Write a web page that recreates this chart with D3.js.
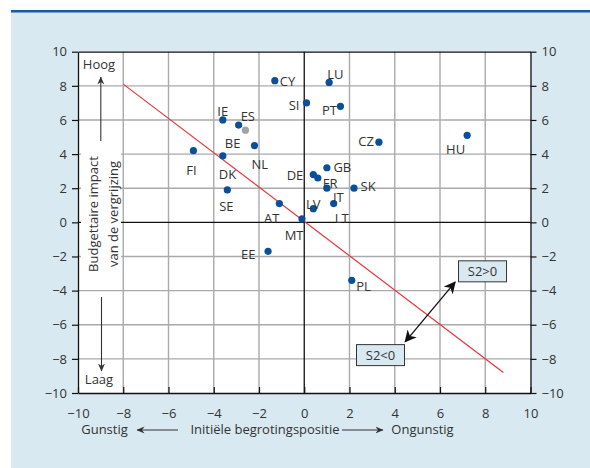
<!DOCTYPE html>
<html>
<head>
<meta charset="utf-8">
<script src="https://cdn.jsdelivr.net/npm/d3@7"></script>
<style>
  body { margin: 0; background: #fff; }
  svg { display: block; }
  text { font-family: "Open Sans", sans-serif; fill: #333; }
</style>
</head>
<body>
<svg id="chart"></svg>
<script>
// data
const countries      = ["FI", "IE", "ES", "BE", "NL", "DK", "SE", "CY", "SI", "AT", "MT", "DE", "LV", "LU", "PT", "CZ", "HU", "GB", "FR", "IT", "SK", "LT", "EE", "PL"];
const initialPos     = [-4.9, -3.6, -2.9, -2.6, -2.2, -3.6, -3.4, -1.3, 0.1, -1.1, -0.1, 0.4, 0.4, 1.1, 1.6, 3.3, 7.2, 1.0, 0.6, 1.0, 2.2, 1.3, -1.6, 2.1];
const ageingImpact   = [4.2, 6.0, 5.7, 5.4, 4.5, 3.9, 1.9, 8.3, 7.0, 1.1, 0.2, 2.8, 0.8, 8.2, 6.8, 4.7, 5.1, 3.2, 2.6, 2.0, 2.0, 1.1, -1.7, -3.4];
const greyCountries  = ["BE"];
const tickValues     = [-10, -8, -6, -4, -2, 0, 2, 4, 6, 8, 10];
const gridValues     = [-8, -6, -4, -2, 0, 2, 4, 6, 8];
const thresholdX     = [-8, 8.8];
const thresholdY     = [8.1, -8.8];
const s2ArrowX       = [4.46, 6.67];
const s2ArrowY       = [-7.0, -3.5];
const s2Labels       = ["S2<0", "S2>0"];
const s2LabelX       = [3.37, 7.88];
const s2LabelY       = [-7.78, -2.87];

// label placement (anchor, dx, dy) per country
const labelPos = {
  FI: ["middle", -2, 20], IE: ["middle", 0, -9], ES: ["start", 2, -9], BE: ["end", -5, 13],
  NL: ["start", -3, 18.5], DK: ["start", -4, 19], SE: ["middle", -1, 16.5], CY: ["start", 5, 0.5],
  SI: ["end", -7, 3], AT: ["end", 0, 15], MT: ["end", 1.5, 16], DE: ["end", -10, 0.5],
  LV: ["middle", 0, -4.5], LU: ["start", -2, -8], PT: ["end", -3.5, 4], CZ: ["end", -5, -0.5],
  HU: ["end", -2, 14], GB: ["start", 6.5, 0], FR: ["start", 5, 5.5], IT: ["start", 6, 9.5],
  SK: ["start", 6.5, -1.5], LT: ["start", 1, 15], EE: ["end", -12.5, 3.5], PL: ["start", 4.5, 6.5]
};

const width = 590, height = 468;
const margin = { top: 51.7, right: 59.5, bottom: 75, left: 78 };
const blue = "#0a4f9a";
const fs = "13px";

const svg = d3.select("#chart").attr("width", width).attr("height", height);

// panel
svg.append("rect").attr("x", 11).attr("y", 10).attr("width", width - 11).attr("height", height - 10)
  .attr("fill", "#d9e9f2");
svg.append("rect").attr("x", 11).attr("y", 10).attr("width", width - 11).attr("height", 2.5)
  .attr("fill", "#1a5a9c");

const x = d3.scaleLinear().domain([-10, 10]).range([margin.left, width - margin.right]);
const y = d3.scaleLinear().domain([-10, 10]).range([height - margin.bottom, margin.top]);

svg.append("rect")
  .attr("x", x(-10)).attr("y", y(10))
  .attr("width", x(10) - x(-10)).attr("height", y(-10) - y(10))
  .attr("fill", "#fff");

// grid
const grid = svg.append("g");
grid.selectAll(".gv").data(gridValues.filter(d => d !== 0)).enter().append("line")
  .attr("x1", d => x(d)).attr("x2", d => x(d)).attr("y1", y(10)).attr("y2", y(-10))
  .attr("stroke", "#aaa").attr("stroke-width", 1.4);
grid.selectAll(".gh").data(gridValues.filter(d => d !== 0)).enter().append("line")
  .attr("x1", x(-10)).attr("x2", x(10)).attr("y1", d => y(d)).attr("y2", d => y(d))
  .attr("stroke", "#aaa").attr("stroke-width", 1.4);
grid.append("line").attr("x1", x(-10)).attr("x2", x(10)).attr("y1", y(0)).attr("y2", y(0))
  .attr("stroke", "#111").attr("stroke-width", 1.3);
grid.append("line").attr("x1", x(0)).attr("x2", x(0)).attr("y1", y(10)).attr("y2", y(-10))
  .attr("stroke", "#111").attr("stroke-width", 1.3);

// white box behind y title
svg.append("rect").attr("x", 81).attr("y", 148).attr("width", 40).attr("height", 132).attr("fill", "#fff");

// axes
function styleAxis(g) {
  g.select(".domain").attr("stroke", "#111").attr("stroke-width", 1.3);
  g.selectAll(".tick line").attr("stroke", "#111").attr("stroke-width", 1.2);
  g.selectAll(".tick text").style("font-size", fs).attr("fill", "#333");
}
const fmt = d => d < 0 ? "\u2212" + Math.abs(d) : String(d);

svg.append("g").attr("transform", `translate(${x(-10)},0)`)
  .call(d3.axisLeft(y).tickValues(tickValues).tickFormat(fmt).tickSize(6).tickSizeOuter(0).tickPadding(5))
  .call(styleAxis);
svg.append("g").attr("transform", `translate(${x(10)},0)`)
  .call(d3.axisRight(y).tickValues(tickValues).tickFormat(fmt).tickSize(6).tickSizeOuter(0).tickPadding(5))
  .call(styleAxis);
svg.append("g").attr("transform", `translate(0,${y(-10)})`)
  .call(d3.axisBottom(x).tickValues(tickValues).tickFormat(fmt).tickSize(-6).tickSizeOuter(0).tickPadding(16))
  .call(styleAxis);
svg.append("g").attr("transform", `translate(0,${y(10)})`)
  .call(d3.axisTop(x).tickValues(tickValues).tickFormat("").tickSize(0).tickSizeOuter(0))
  .call(styleAxis);

// threshold line
svg.append("line")
  .attr("x1", x(thresholdX[0])).attr("y1", y(thresholdY[0]))
  .attr("x2", x(thresholdX[1])).attr("y2", y(thresholdY[1]))
  .attr("stroke", "#e8353a").attr("stroke-width", 1.2);

// points
const points = countries.map((c, i) => ({ name: c, x: initialPos[i], y: ageingImpact[i] }));
svg.selectAll(".dot").data(points).enter().append("circle")
  .attr("cx", d => x(d.x)).attr("cy", d => y(d.y)).attr("r", 3.6)
  .attr("fill", d => greyCountries.includes(d.name) ? "#a3a3a3" : blue);
svg.selectAll(".lbl").data(points).enter().append("text")
  .attr("x", d => x(d.x) + labelPos[d.name][1])
  .attr("y", d => y(d.y) + labelPos[d.name][2] + 4.6)
  .attr("text-anchor", d => labelPos[d.name][0])
  .style("font-size", fs)
  .text(d => d.name);

// S2 arrow
const defs = svg.append("defs");
defs.append("marker").attr("id", "barb").attr("viewBox", "0 0 12 12")
  .attr("refX", 11).attr("refY", 6).attr("markerWidth", 12).attr("markerHeight", 12)
  .attr("markerUnits", "userSpaceOnUse").attr("orient", "auto-start-reverse")
  .append("path").attr("d", "M0,0 L12,6 L0,12 L3.5,6 Z").attr("fill", "#111");
svg.append("line")
  .attr("x1", x(s2ArrowX[0])).attr("y1", y(s2ArrowY[0]))
  .attr("x2", x(s2ArrowX[1])).attr("y2", y(s2ArrowY[1]))
  .attr("stroke", "#111").attr("stroke-width", 1.3)
  .attr("marker-start", "url(#barb)").attr("marker-end", "url(#barb)");

s2Labels.forEach((t, i) => {
  const cx = x(s2LabelX[i]), cy = y(s2LabelY[i]);
  svg.append("rect").attr("x", cx - 24).attr("y", cy - 10.5).attr("width", 48).attr("height", 21)
    .attr("fill", "#d9e9f2").attr("stroke", "#333").attr("stroke-width", 1);
  svg.append("text").attr("x", cx).attr("y", cy + 4.6).attr("text-anchor", "middle")
    .style("font-size", fs).text(t);
});

// y title
const yt = svg.append("g");
yt.append("text").attr("transform", "translate(98,214) rotate(-90)").attr("text-anchor", "middle")
  .style("font-size", fs).text("Budgettaire impact");
yt.append("text").attr("transform", "translate(118,214) rotate(-90)").attr("text-anchor", "middle")
  .style("font-size", fs).text("van de vergrijzing");
yt.append("text").attr("x", 99).attr("y", 68.5).attr("text-anchor", "middle").style("font-size", fs).text("Hoog");
yt.append("text").attr("x", 99).attr("y", 383.5).attr("text-anchor", "middle").style("font-size", fs).text("Laag");

defs.append("marker").attr("id", "head").attr("viewBox", "0 0 8 8")
  .attr("refX", 7.5).attr("refY", 4).attr("markerWidth", 8).attr("markerHeight", 8)
  .attr("markerUnits", "userSpaceOnUse").attr("orient", "auto")
  .append("path").attr("d", "M0,0.5 L8,4 L0,7.5 L2.5,4 Z").attr("fill", "#333");
function arrow(x1, y1, x2, y2) {
  svg.append("line").attr("x1", x1).attr("y1", y1).attr("x2", x2).attr("y2", y2)
    .attr("stroke", "#333").attr("stroke-width", 1.1).attr("marker-end", "url(#head)");
}
arrow(100.8, 141, 100.8, 77);
arrow(101.5, 297, 101.5, 371);

// x title
const xt = svg.append("g").style("font-size", fs);
xt.append("text").attr("x", 104.5).attr("y", 434).attr("text-anchor", "middle").text("Gunstig");
xt.append("text").attr("x", 265).attr("y", 434).attr("text-anchor", "middle").text("Initiële begrotingspositie");
xt.append("text").attr("x", 422.5).attr("y", 434).attr("text-anchor", "middle").text("Ongunstig");
arrow(178, 430, 137, 430);
arrow(342, 430, 383, 430);
</script>
</body>
</html>
